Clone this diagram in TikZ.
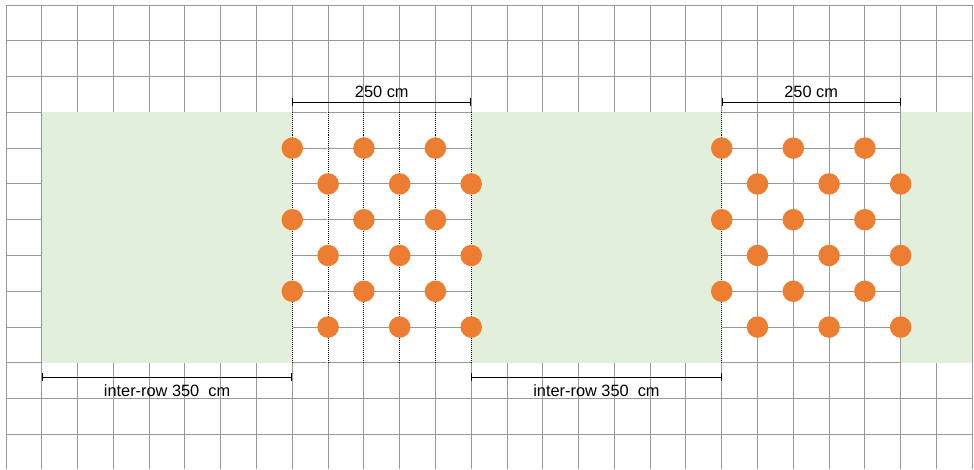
\documentclass[tikz,border=0pt]{standalone}
\usepackage{fontspec}
\setmainfont{Liberation Sans}
\definecolor{sward}{HTML}{E2EFDA}
\definecolor{crown}{HTML}{ED7D31}
\definecolor{gridgray}{HTML}{989898}

\begin{document}
\begin{tikzpicture}[x=1cm, y=1cm,
		gridline/.style={draw=gridgray, line width=0.8pt},
		rowline/.style={dash pattern=on 0.8pt off 0.8pt, line width=0.8pt},
		tree/.style={circle, fill=crown, inner sep=0pt, minimum size=0.6cm},
		dim/.style={|-|, line width=0.7pt},
		dimtext/.style={font=\fontsize{13}{15}\selectfont, inner sep=1pt}]
		\useasboundingbox[fill=white] (-0.168,0.14) rectangle (27.05,-12.97);

		% sheet grid
		\foreach \x in {0,...,27}
			\draw[gridline] (\x,0) -- (\x,-12.97);
		\foreach \y in {0,...,12}
			\draw[gridline] (0,-\y) -- (27,-\y);

		% inter-rows
		\fill[sward] (1,-3) rectangle (8,-10);
		\fill[sward] (13,-3) rectangle (20,-10);
		\fill[sward] (25,-3) rectangle (27,-10);

		% tree rows
		\foreach \x in {8,...,13,20,...,25} {
			\draw[white, line width=1pt] (\x,-3) -- (\x,-10);
			\draw[rowline] (\x,-3) -- (\x,-10);
		}

		\foreach \p/\x in {a/8, b/20} {
			\foreach \r in {0,2,4}
				\foreach \c in {0,2,4}
					\node[tree] (\p\r\c) at (\x+\c,-4-\r) {};
			\foreach \r in {1,3,5}
				\foreach \c in {1,3,5}
					\node[tree] (\p\r\c) at (\x+\c,-4-\r) {};
		}

		% widths
		\coordinate (wa1) at (8,-2.71);
		\coordinate (wa2) at (13,-2.71);
		\coordinate (wb1) at (20,-2.71);
		\coordinate (wb2) at (25,-2.71);
		\draw[dim] (wa1) -- (wa2);
		\draw[dim] (wb1) -- (wb2);
		\node[dimtext] (wta) at (10.5,-2.43) {250 cm};
		\node[dimtext] (wtb) at (22.5,-2.43) {250 cm};

		\coordinate (ia1) at (1,-10.4);
		\coordinate (ia2) at (8,-10.4);
		\coordinate (ib1) at (13,-10.4);
		\coordinate (ib2) at (20,-10.4);
		\draw[dim] (ia1) -- (ia2);
		\draw[dim] (ib1) -- (ib2);
		\node[dimtext] (ita) at (4.5,-10.79) {inter-row 350\ \ cm};
		\node[dimtext] (itb) at (16.5,-10.79) {inter-row 350\ \ cm};

	\end{tikzpicture}
\end{document}
